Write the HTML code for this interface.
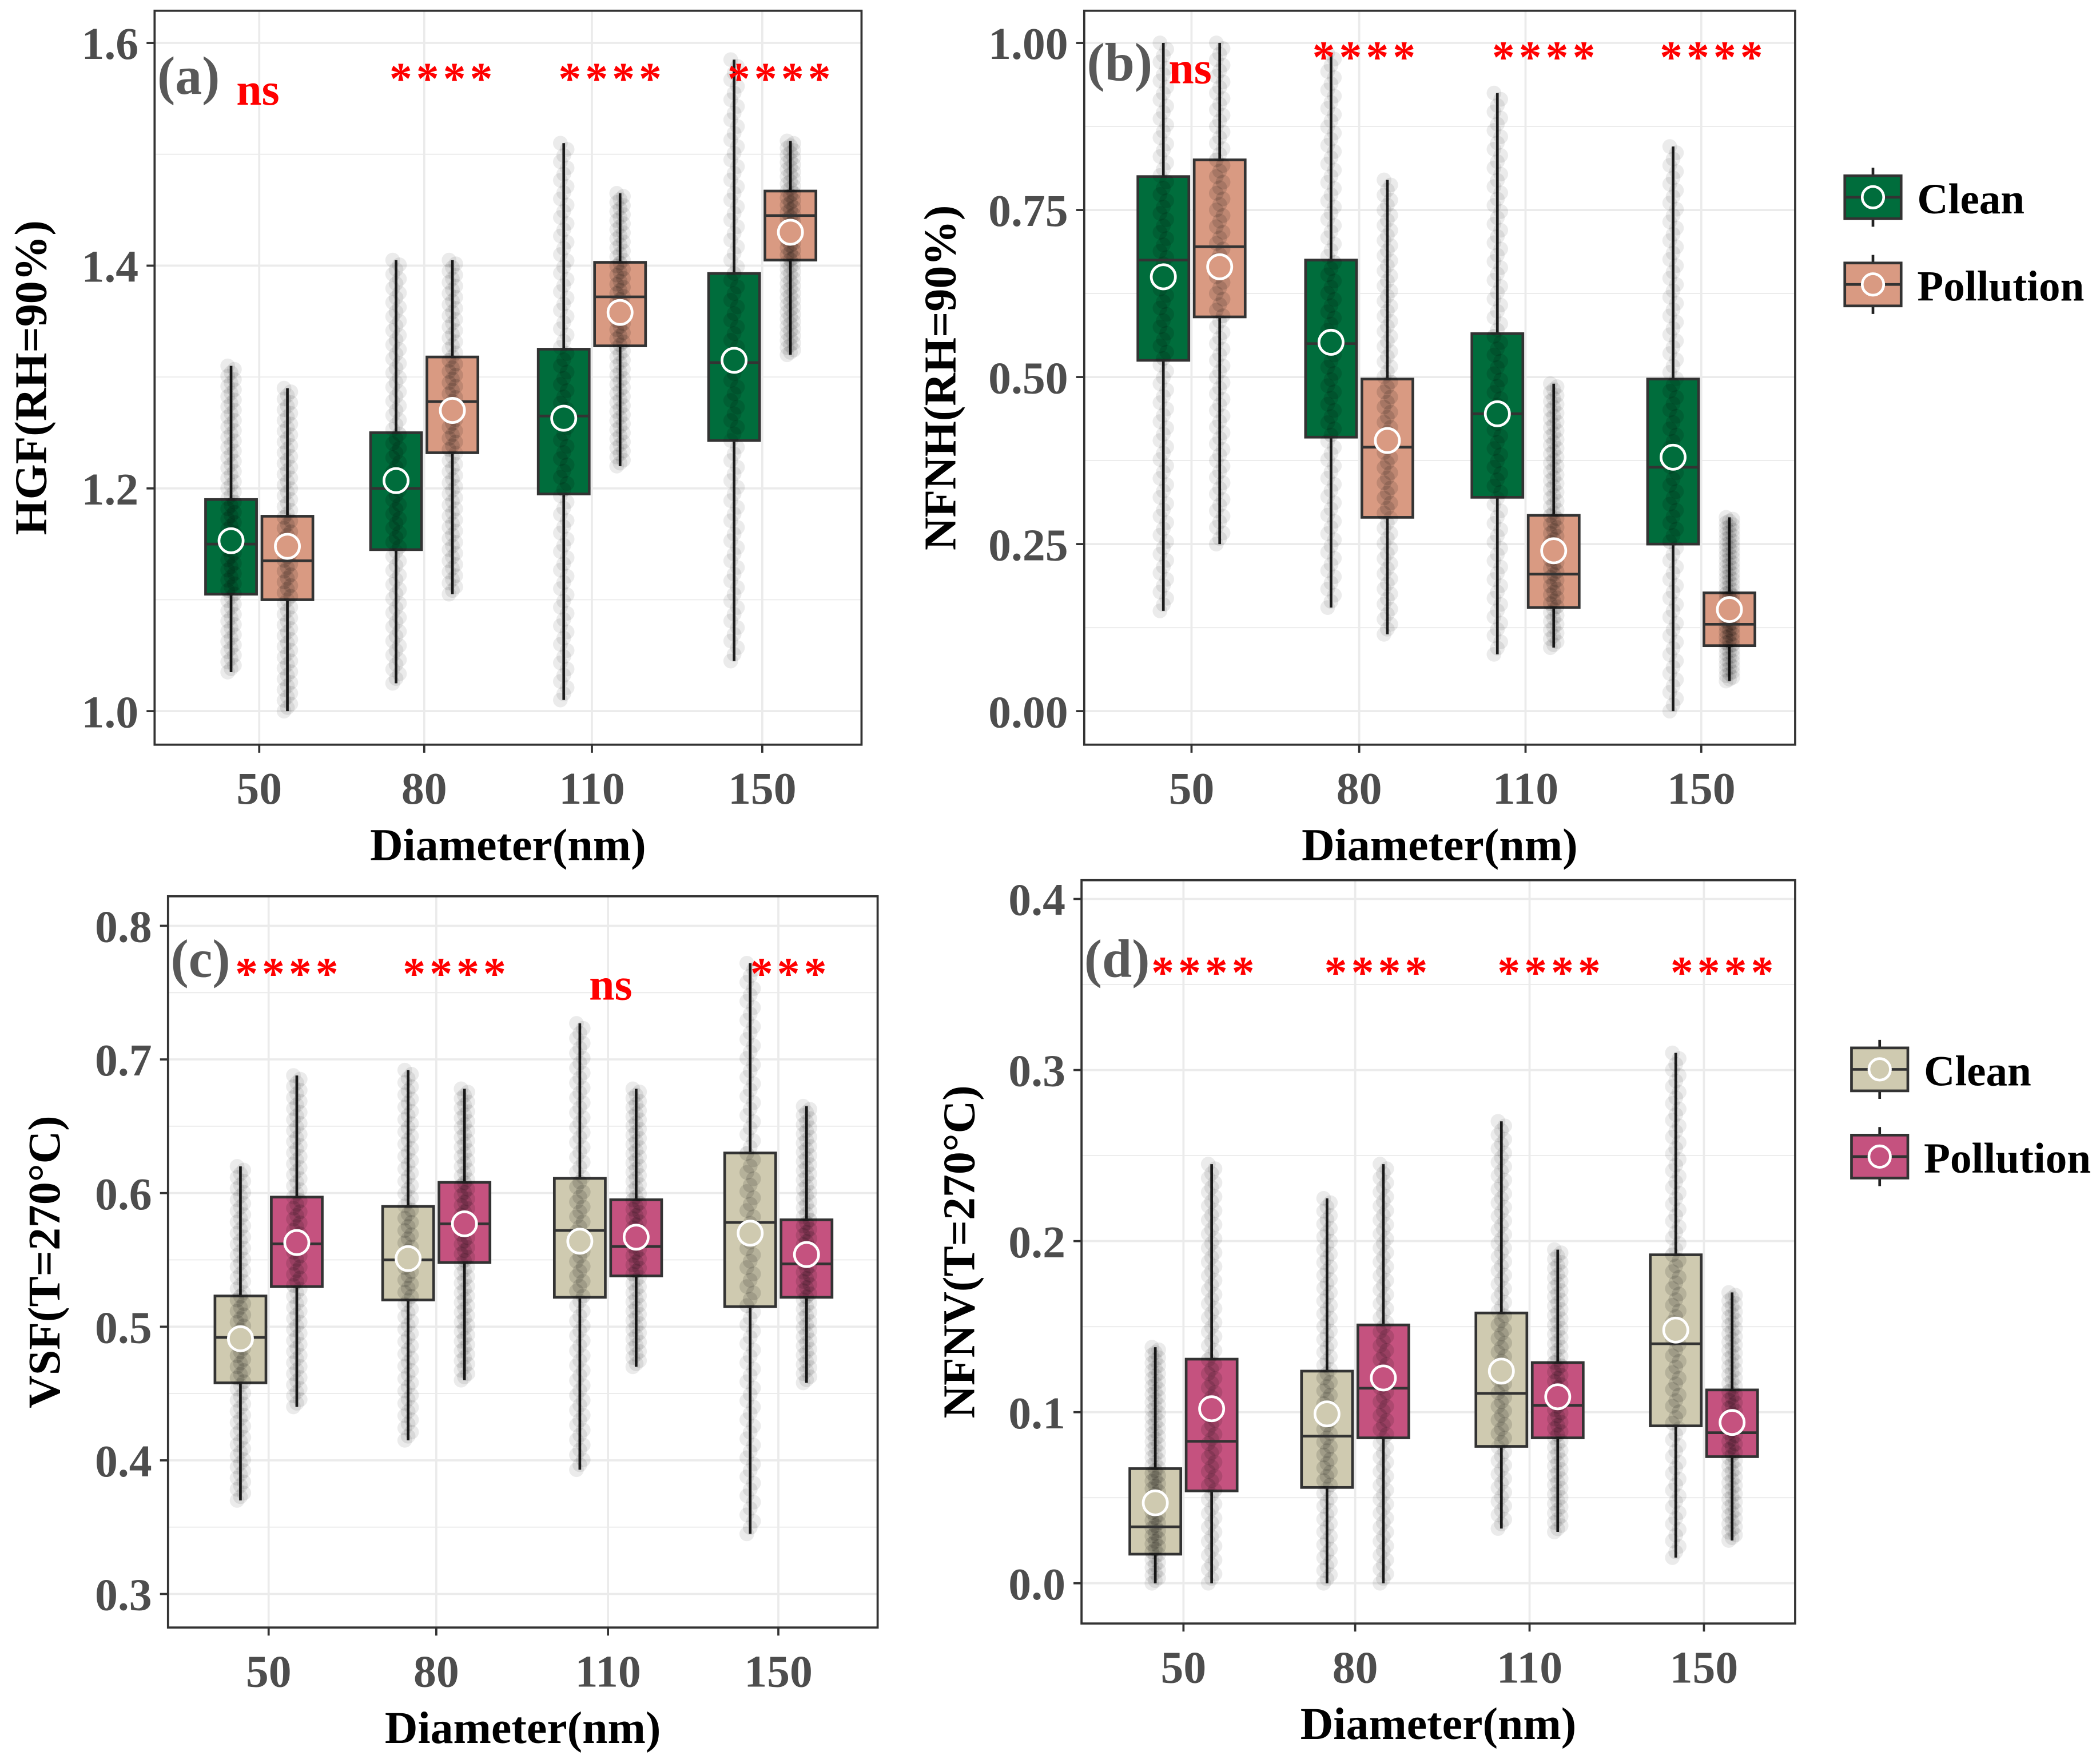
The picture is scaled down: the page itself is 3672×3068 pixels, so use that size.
<!DOCTYPE html>
<html><head><meta charset="utf-8"><style>
html,body{margin:0;padding:0;background:#fff}
svg{display:block}
text{font-family:"Liberation Serif",serif;font-weight:bold}
</style></head><body>
<svg id="chart" xmlns="http://www.w3.org/2000/svg" width="3672" height="3068" viewBox="0 0 1565 1308"></svg>
<script>
const categories = ["50","80","110","150"];
// panel a: HGF  [lo,q1,med,q3,hi,mean]
const aClean = [[1.035,1.105,1.15,1.19,1.31,1.153],[1.025,1.145,1.20,1.25,1.405,1.207],[1.01,1.195,1.265,1.325,1.51,1.263],[1.045,1.243,1.313,1.393,1.585,1.315]];
const aPoll  = [[1.0,1.10,1.135,1.175,1.29,1.148],[1.105,1.232,1.278,1.318,1.405,1.27],[1.22,1.328,1.372,1.403,1.465,1.358],[1.32,1.405,1.445,1.467,1.512,1.43]];
const aTicks = ["1.0","1.2","1.4","1.6"];
const aSig = ["ns","****","****","****"];
// panel b: NFNH
const bClean = [[0.15,0.525,0.675,0.80,1.0,0.65],[0.155,0.41,0.55,0.675,0.985,0.552],[0.085,0.32,0.445,0.565,0.925,0.445],[0.0,0.25,0.365,0.497,0.845,0.38]];
const bPoll  = [[0.25,0.59,0.695,0.825,1.0,0.665],[0.115,0.29,0.395,0.497,0.795,0.405],[0.095,0.155,0.205,0.293,0.49,0.24],[0.045,0.098,0.13,0.177,0.29,0.152]];
const bTicks = ["0.00","0.25","0.50","0.75","1.00"];
const bSig = ["ns","****","****","****"];
// panel c: VSF
const cClean = [[0.37,0.458,0.492,0.523,0.62,0.491],[0.415,0.52,0.55,0.59,0.692,0.551],[0.393,0.522,0.572,0.611,0.727,0.564],[0.345,0.515,0.578,0.63,0.772,0.57]];
const cPoll  = [[0.44,0.53,0.562,0.597,0.688,0.563],[0.46,0.548,0.577,0.608,0.678,0.577],[0.47,0.538,0.56,0.595,0.678,0.567],[0.458,0.522,0.547,0.58,0.665,0.554]];
const cTicks = ["0.3","0.4","0.5","0.6","0.7","0.8"];
const cSig = ["****","****","ns","***"];
// panel d: NFNV
const dClean = [[0.0,0.017,0.033,0.067,0.138,0.047],[0.0,0.056,0.086,0.124,0.225,0.099],[0.032,0.08,0.111,0.158,0.27,0.124],[0.015,0.092,0.14,0.192,0.31,0.148]];
const dPoll  = [[0.0,0.054,0.083,0.131,0.245,0.102],[0.0,0.085,0.114,0.151,0.245,0.12],[0.03,0.085,0.104,0.129,0.195,0.109],[0.025,0.074,0.088,0.113,0.17,0.094]];
const dTicks = ["0.0","0.1","0.2","0.3","0.4"];
const dSig = ["****","****","****","****"];

const NS="http://www.w3.org/2000/svg";
const svg=document.getElementById('chart');
function mk(tag,attrs,parent,txt){const e=document.createElementNS(NS,tag);for(const k in attrs)e.setAttribute(k,attrs[k]);if(txt!==undefined)e.textContent=txt;(parent||svg).appendChild(e);return e;}

function panel(o){
  const g=mk('g',{});
  
  
  const y=v=>o.y0+(v-o.vmin)/(o.vmax-o.vmin)*(o.y1-o.y0);
  const xs=o.xt;
  mk('rect',{x:o.L,y:o.T,width:o.R-o.L,height:o.B-o.T,fill:'#fff'},g);
  const vals=o.ticks.map(Number);
  const step=vals[1]-vals[0];
  for(let i=0;i<vals.length;i++){
    for(const v of [vals[i], vals[i]+step/2]){
      const yy=y(v); if(yy<o.T||yy>o.B) continue;
      mk('line',{x1:o.L,x2:o.R,y1:yy,y2:yy,stroke:'#ebebeb','stroke-width':v===vals[i]?1.6:0.8},g);
    }
  }
  { const yy=y(vals[0]-step/2); if(yy<o.B) mk('line',{x1:o.L,x2:o.R,y1:yy,y2:yy,stroke:'#ebebeb','stroke-width':0.8},g); }
  xs.forEach(x=>mk('line',{x1:x,x2:x,y1:o.T,y2:o.B,stroke:'#ebebeb','stroke-width':1.6},g));
  const bw=38, off=21;
  [[o.clean,-off,o.cc],[o.poll,off,o.pc]].forEach(([data,dx,col],si)=>{
    data.forEach((d,i)=>{
      const cx=xs[i]+dx;
      const bg=mk('g',{},g);
      
      
      mk('line',{x1:cx,x2:cx,y1:y(d[0]),y2:y(d[4]),stroke:'#222','stroke-width':2},bg);
      mk('rect',{x:cx-bw/2,y:y(d[3]),width:bw,height:y(d[1])-y(d[3]),fill:col,stroke:'#333','stroke-width':2},bg);
      const n=90;
      for(let k=0;k<=n;k++){
        const v=d[0]+(d[4]-d[0])*k/n;
        const inside=v>=d[1]&&v<=d[3];
        mk('circle',{cx:cx+((k%3)-1)*2.5,cy:y(v),r:5.5,fill:'#000','fill-opacity':inside?0.12:0.08},bg);
      }
      mk('line',{x1:cx-bw/2,x2:cx+bw/2,y1:y(d[2]),y2:y(d[2]),stroke:'#333','stroke-width':2},bg);
      mk('circle',{cx:cx,cy:y(d[5]),r:9,fill:col,stroke:'#fff','stroke-width':2},bg);
    });
  });
  mk('rect',{x:o.L,y:o.T,width:o.R-o.L,height:o.B-o.T,fill:'none',stroke:'#333','stroke-width':1.6},g);
  o.ticks.forEach(t=>{const yy=y(Number(t));
    mk('line',{x1:o.L-6,x2:o.L,y1:yy,y2:yy,stroke:'#333','stroke-width':1.6},g);
    const tx=mk('text',{x:o.L-12,y:yy+12,'text-anchor':'end','font-size':34,fill:'#4d4d4d'},g,t);
    
    
  });
  categories.forEach((c,i)=>{
    mk('line',{x1:xs[i],x2:xs[i],y1:o.B,y2:o.B+6,stroke:'#333','stroke-width':1.6},g);
    const tx=mk('text',{x:xs[i],y:o.B+44,'text-anchor':'middle','font-size':34,fill:'#4d4d4d'},g,c);
    
    
  });
  const xt=mk('text',{x:(o.L+o.R)/2,y:o.B+86,'text-anchor':'middle','font-size':34,fill:'#000'},g,'Diameter(nm)');
  
  
  const yt=mk('text',{x:0,y:0,transform:`translate(${o.ytx},${(o.T+o.B)/2}) rotate(-90)`,'text-anchor':'middle','font-size':34,fill:'#000'},g,o.ytitle);
  
  
  const pl=mk('text',{x:o.L+2,y:o.labY,'font-size':40,fill:'#595959','font-weight':'normal'},g,'('+o.id+')');
  
  
  o.sig.forEach((s,i)=>{
    const isNs=s==='ns';
    const st=mk('text',{x:o.sigX[i],y:isNs?o.sigY+8:o.sigY,'text-anchor':'middle','font-size':isNs?34:34,fill:'#ff0000','letter-spacing':isNs?0:3},g,s);
    
    
  });
  if(o.leg){
    const lg=mk('g',{},g);
    
    
    [['Clean',o.cc],['Pollution',o.pc]].forEach(([nm,col],k)=>{
      const ly=o.leg[1]+k*65, lx=o.leg[0];
      const e=mk('g',{},lg);
      
      
      mk('line',{x1:lx+21,x2:lx+21,y1:ly-22,y2:ly+22,stroke:'#222','stroke-width':2},e);
      mk('rect',{x:lx,y:ly-16,width:42,height:32,fill:col,stroke:'#333','stroke-width':2},e);
      mk('line',{x1:lx,x2:lx+42,y1:ly,y2:ly,stroke:'#333','stroke-width':2},e);
      mk('circle',{cx:lx+21,cy:ly,r:8,fill:col,stroke:'#fff','stroke-width':2},e);
      mk('text',{x:lx+54,y:ly+12,'font-size':32,fill:'#000'},e,nm);
    });
  }
}
panel({id:'a',L:115,R:642,T:8,B:555,y0:530,y1:32,vmin:1.0,vmax:1.6,xt:[193,316,441,568],clean:aClean,poll:aPoll,ticks:aTicks,sig:aSig,
  cc:'#006d3c',pc:'#d99a82',ytitle:'HGF(RH=90%)',ytx:34,labY:70,sigX:[192,330,456,582],sigY:70});
panel({id:'b',L:808,R:1338,T:8,B:555,y0:530,y1:32,vmin:0,vmax:1.0,xt:[888,1013,1137,1268],clean:bClean,poll:bPoll,ticks:bTicks,sig:bSig,
  cc:'#006d3c',pc:'#d99a82',ytitle:'NFNH(RH=90%)',ytx:712,labY:60,sigX:[887,1018,1152,1277],sigY:54,leg:[1375,147]});
panel({id:'c',L:125,R:654,T:668,B:1213,y0:1188,y1:690,vmin:0.3,vmax:0.8,xt:[200,325,453,580],clean:cClean,poll:cPoll,ticks:cTicks,sig:cSig,
  cc:'#cfcab0',pc:'#c5527f',ytitle:'VSF(T=270°C)',ytx:44,labY:728,sigX:[215,340,455,589],sigY:737});
panel({id:'d',L:806,R:1338,T:656,B:1210,y0:1180,y1:670,vmin:0,vmax:0.4,xt:[882,1010,1140,1270],clean:dClean,poll:dPoll,ticks:dTicks,sig:dSig,
  cc:'#cfcab0',pc:'#c5527f',ytitle:'NFNV(T=270°C)',ytx:726,labY:728,sigX:[898,1027,1156,1285],sigY:736,leg:[1380,797]});
</script>
</body></html>
